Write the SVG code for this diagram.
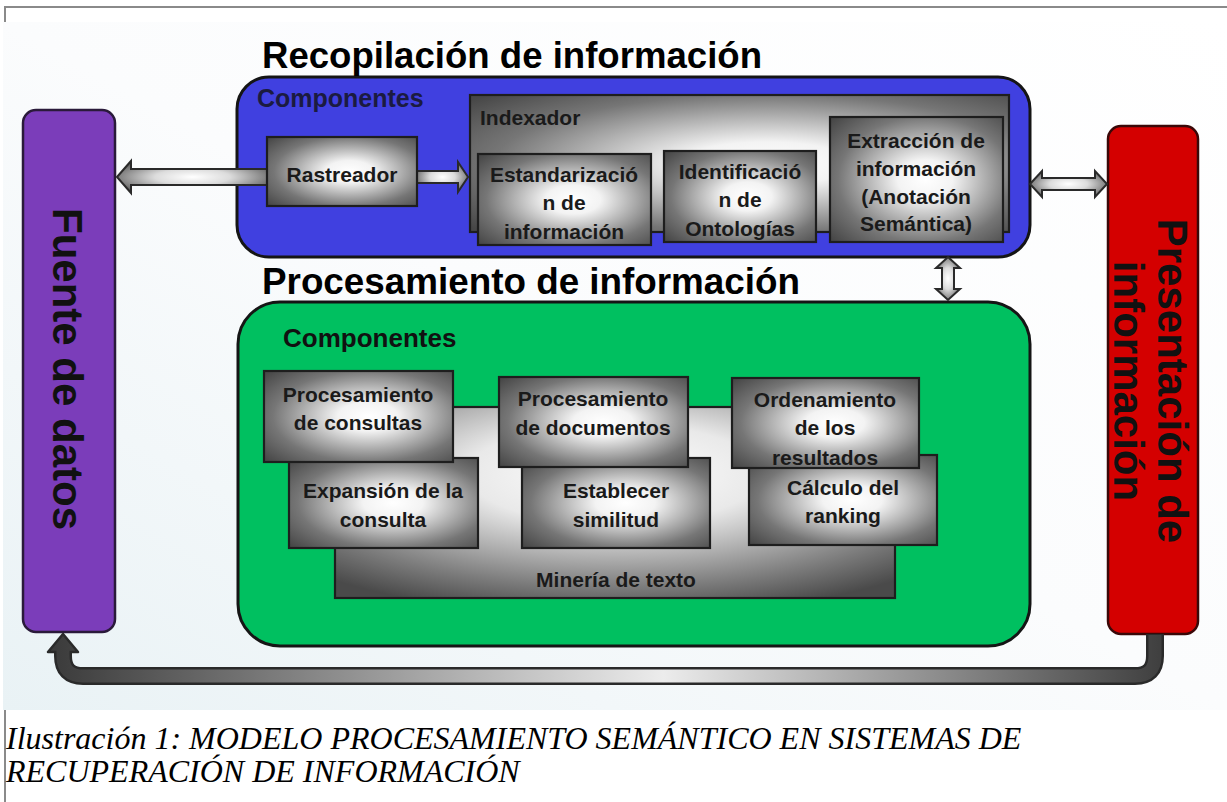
<svg xmlns="http://www.w3.org/2000/svg" width="1227" height="802" viewBox="0 0 1227 802">
<style>
.t{font-family:"Liberation Sans",Arial,sans-serif;font-weight:bold;fill:#1a1a1a}
.b{font-size:21px;text-anchor:middle}
.side{font-size:42px;text-anchor:middle;fill:#111}
.title{font-size:37px;fill:#000}
.gbox{fill:url(#gg);stroke:#1e1e1e;stroke-width:2.2}
.arr{fill:url(#ga);stroke:#2a2a2a;stroke-width:2}
.cont{stroke:#151515;stroke-width:3}
.cap{font-family:"Liberation Serif","Times New Roman",serif;font-style:italic;font-size:32px;fill:#000}
</style>
<defs>
<radialGradient id="gg" cx="0.55" cy="0.5" r="0.72">
<stop offset="0" stop-color="#ffffff"/>
<stop offset="0.22" stop-color="#f3f3f3"/>
<stop offset="0.7" stop-color="#767676"/>
<stop offset="1" stop-color="#474747"/>
</radialGradient>
<radialGradient id="gm" cx="0.5" cy="0.35" r="0.75">
<stop offset="0" stop-color="#ffffff"/>
<stop offset="0.35" stop-color="#e9e9e9"/>
<stop offset="0.8" stop-color="#7a7a7a"/>
<stop offset="1" stop-color="#4a4a4a"/>
</radialGradient>
<radialGradient id="ga" cx="0.5" cy="0.5" r="0.62">
<stop offset="0" stop-color="#ffffff"/>
<stop offset="0.4" stop-color="#dcdcdc"/>
<stop offset="1" stop-color="#4e4e4e"/>
</radialGradient>
<linearGradient id="gb" gradientUnits="userSpaceOnUse" x1="50" y1="0" x2="1165" y2="0">
<stop offset="0" stop-color="#3a3a3a"/>
<stop offset="0.55" stop-color="#ececec"/>
<stop offset="1" stop-color="#3e3e3e"/>
</linearGradient>
<linearGradient id="bg" x1="1" y1="0" x2="0" y2="1">
<stop offset="0" stop-color="#ffffff"/>
<stop offset="0.5" stop-color="#fbfcfd"/>
<stop offset="1" stop-color="#e9f2f5"/>
</linearGradient>
</defs>

<rect x="0" y="0" width="1227" height="802" fill="#ffffff"/>
<g id="frame">
<line x1="5" y1="7" x2="1227" y2="7" stroke="#8a8a8a" stroke-width="2"/>
<line x1="5" y1="6" x2="5" y2="802" stroke="#8a8a8a" stroke-width="2"/>
<rect x="3" y="22" width="1224" height="688" fill="url(#bg)"/>
</g>

<g id="fuente-de-datos">
<rect x="23" y="110" width="92" height="522" rx="13" fill="#7b3dba" stroke="#2a1a3a" stroke-width="2.5"/>
<text class="t side" transform="translate(53,369) rotate(90)">Fuente de datos</text>
</g>

<g id="presentacion">
<rect x="1108" y="126" width="90" height="508" rx="13" fill="#d40000" stroke="#3a0808" stroke-width="2.5"/>
<text class="t side" transform="translate(1158,381) rotate(90)">Presentación de</text>
<text class="t side" transform="translate(1114,381) rotate(90)">información</text>
</g>

<g id="recopilacion">
<rect class="cont" x="237" y="77" width="793" height="180" rx="32" fill="#4040e0"/>
<text class="t title" x="262" y="68" textLength="500" lengthAdjust="spacingAndGlyphs">Recopilación de información</text>
<text class="t" x="257" y="107" font-size="25" style="fill:#1b1b40">Componentes</text>
</g>

<g id="procesamiento">
<rect class="cont" x="238" y="302" width="792" height="344" rx="42" fill="#00c060"/>
<text class="t title" x="262" y="294" textLength="538" lengthAdjust="spacingAndGlyphs">Procesamiento de información</text>
<text class="t" x="283" y="347" font-size="26" style="fill:#111">Componentes</text>
</g>

<g id="connectors">
<polygon class="arr" points="117,177 131,161 131,169 268,169 268,185 131,185 131,193"/>
<polygon class="arr" points="417,171 458,171 458,162 468,177 458,192 458,183 417,183"/>
<polygon class="arr" points="1030,184 1042,171 1042,178 1095,178 1095,171 1107,184 1095,197 1095,190 1042,190 1042,197"/>
<polygon class="arr" points="948,257 960,268 954,268 954,289 960,289 948,300 936,289 942,289 942,268 936,268"/>
<path d="M1155,634 V656 Q1155,676 1135,676 H83 Q63,676 63,656 V651" fill="none" stroke="#2a2a2a" stroke-width="18"/>
<polygon points="48,652 63,634 78,652" fill="url(#gb)" stroke="#2a2a2a" stroke-width="2.5" stroke-linejoin="round"/>
<path d="M1155,635 V656 Q1155,676 1135,676 H83 Q63,676 63,656 V649" fill="none" stroke="url(#gb)" stroke-width="13"/>
</g>

<g id="rastreador">
<rect class="gbox" x="267" y="137" width="150" height="69"/>
<text class="t b" x="342" y="182">Rastreador</text>
</g>

<g id="indexador">
<rect class="gbox" x="470" y="95" width="539" height="137"/>
<text class="t" x="480" y="125" font-size="21">Indexador</text>
</g>

<g id="estandarizacion">
<rect class="gbox" x="478" y="154" width="173" height="91"/>
<text class="t b" x="564" y="182">Estandarizació</text>
<text class="t b" x="564" y="210">n de</text>
<text class="t b" x="564" y="239">información</text>
</g>

<g id="identificacion">
<rect class="gbox" x="664" y="151" width="152" height="91"/>
<text class="t b" x="740" y="179">Identificació</text>
<text class="t b" x="740" y="207">n de</text>
<text class="t b" x="740" y="236">Ontologías</text>
</g>

<g id="extraccion">
<rect class="gbox" x="830" y="117" width="173" height="125"/>
<text class="t b" x="916" y="148">Extracción de</text>
<text class="t b" x="916" y="176">información</text>
<text class="t b" x="916" y="204">(Anotación</text>
<text class="t b" x="916" y="231">Semántica)</text>
</g>

<g id="mineria">
<rect x="335" y="407" width="560" height="191" fill="url(#gm)" stroke="#1e1e1e" stroke-width="2.2"/>
<text class="t b" x="616" y="587">Minería de texto</text>
</g>

<g id="expansion">
<rect class="gbox" x="289" y="458" width="189" height="90"/>
<text class="t b" x="383" y="498">Expansión de la</text>
<text class="t b" x="383" y="527">consulta</text>
</g>

<g id="proc-consultas">
<rect class="gbox" x="264" y="371" width="189" height="91"/>
<text class="t b" x="358" y="402">Procesamiento</text>
<text class="t b" x="358" y="430">de consultas</text>
</g>

<g id="similitud">
<rect class="gbox" x="522" y="458" width="188" height="90"/>
<text class="t b" x="616" y="498">Establecer</text>
<text class="t b" x="616" y="527">similitud</text>
</g>

<g id="proc-documentos">
<rect class="gbox" x="499" y="377" width="189" height="90"/>
<text class="t b" x="593" y="406">Procesamiento</text>
<text class="t b" x="593" y="435">de documentos</text>
</g>

<g id="calculo">
<rect class="gbox" x="749" y="455" width="188" height="90"/>
<text class="t b" x="843" y="495">Cálculo del</text>
<text class="t b" x="843" y="523">ranking</text>
</g>

<g id="ordenamiento">
<rect class="gbox" x="732" y="378" width="187" height="90"/>
<text class="t b" x="825" y="407">Ordenamiento</text>
<text class="t b" x="825" y="435">de los</text>
<text class="t b" x="825" y="465">resultados</text>
</g>

<g id="caption">
<text class="cap" x="6" y="749">Ilustración 1: MODELO PROCESAMIENTO SEMÁNTICO EN SISTEMAS DE</text>
<text class="cap" x="6" y="782">RECUPERACIÓN DE INFORMACIÓN</text>
</g>
</svg>
